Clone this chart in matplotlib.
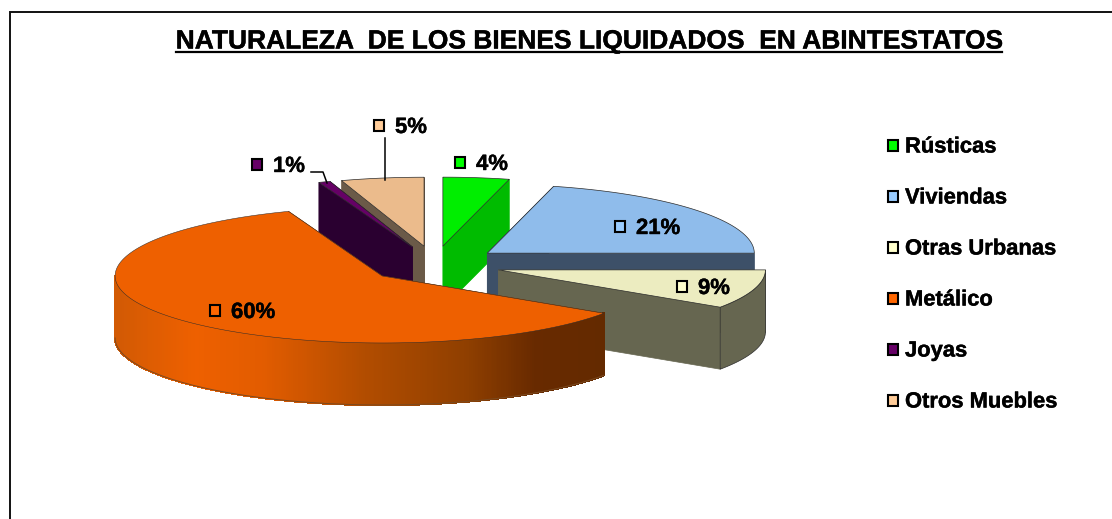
import numpy as np
import matplotlib
matplotlib.use("Agg")
import matplotlib.pyplot as plt
import matplotlib.patheffects as pe
from matplotlib.patches import Polygon, Rectangle
from matplotlib.collections import PolyCollection
from matplotlib.colors import LinearSegmentedColormap, Normalize

plt.rcParams['font.family'] = ['Liberation Sans', 'DejaVu Sans']

# ---- data ----
categories = ["Rústicas", "Viviendas", "Otras Urbanas", "Metálico", "Joyas", "Otros Muebles"]
shares = [4.0, 21.0, 9.4, 59.9, 0.7, 5.0]
title = "NATURALEZA  DE LOS BIENES LIQUIDADOS  EN ABINTESTATOS"

# ---- styles ----
top_colors = ["#00EE00", "#8FBCEB", "#ECECC0", "#EE6000", "#660066", "#EBBB8C"]
wall_colors = ["#00BB00", "#3D5068", "#666650", "#8F3F00", "#2A0030", "#6B5A48"]
key_colors = ["#00FF00", "#99CCFF", "#FFFFCC", "#FF6600", "#660066", "#FFCC99"]
draw_order = [0, 5, 4, 1, 2, 3]

# ---- layout, in pixels of the figure ----
W, H = 1112, 519
CX, CY, RX = 434.5, 264.5, 267.0
RY_FRONT, RY_BACK = 67.0, 69.0
EXPLODE_X, EXPLODE_Y, DEPTH = 66.8, 18.5, 62.0
label_pos = [(460, 162), (620, 226), (682, 286), (215, 310), (257, 164), (379, 125)]
legend_y = [145, 196, 247, 298, 349, 400]

fig = plt.figure(figsize=(W / 100, H / 100), dpi=100, facecolor="white")
ax = fig.add_axes([0, 0, 1, 1])
ax.set_xlim(0, W)
ax.set_ylim(H, 0)
ax.axis("off")

ax.plot([10, 10, W], [H, 12, 12], color="#111111", lw=1.4, solid_joinstyle="miter", zorder=1)

total = sum(shares)
edges = np.concatenate([[0], np.cumsum(shares)]) / total * 2 * np.pi
wall_cmap = LinearSegmentedColormap.from_list("wall", [
    (0.00, "#D25A04"), (0.16, "#EE6000"), (0.30, "#E25C00"), (0.52, "#B04C00"),
    (0.72, "#8F3F00"), (0.86, "#682A00"), (1.00, "#642A00")])
norm = Normalize(115, 603)
EDGE = "#2b2b2b"
heavy = [pe.withStroke(linewidth=0.3, foreground="black")]


def rim(ox, oy, th):
    c = np.cos(th)
    return ox + RX * np.sin(th), oy - np.where(c > 0, RY_BACK, RY_FRONT) * c


z = 2
for i in draw_order:
    a0, a1 = edges[i], edges[i + 1]
    mid = (a0 + a1) / 2
    ox = CX + EXPLODE_X * np.sin(mid)
    oy = CY - EXPLODE_Y * np.cos(mid)
    th = np.linspace(a0, a1, 240)
    xs, ys = rim(ox, oy, th)

    # radial cut walls
    for a in (a0, a1):
        px, py = rim(ox, oy, a)
        ax.add_patch(Polygon([(ox, oy), (px, py), (px, py + DEPTH), (ox, oy + DEPTH)],
                             closed=True, fc=wall_colors[i], ec=wall_colors[i], lw=0.5, zorder=z))
        z += 1

    # outer wall: only the part turned towards the viewer
    lo, hi = max(a0, np.pi / 2), min(a1, 3 * np.pi / 2)
    if hi > lo:
        tw = np.linspace(lo, hi, 361)
        wx, wy = rim(ox, oy, tw)
        if i == 3:
            quads = [[(wx[k], wy[k]), (wx[k + 1], wy[k + 1]),
                      (wx[k + 1], wy[k + 1] + DEPTH), (wx[k], wy[k] + DEPTH)]
                     for k in range(len(wx) - 1)]
            cols = wall_cmap(norm((wx[:-1] + wx[1:]) / 2))
            ax.add_collection(PolyCollection(quads, facecolors=cols, edgecolors=cols,
                                             linewidths=1.0, antialiaseds=False, zorder=z))
            z += 1
            ax.plot(wx, wy + DEPTH, color="#7a4a20", lw=0.7, zorder=z)
        else:
            pts = list(zip(wx, wy)) + list(zip(wx[::-1], wy[::-1] + DEPTH))
            ax.add_patch(Polygon(pts, closed=True, fc=wall_colors[i], ec=EDGE, lw=0.5, zorder=z))
        z += 1

    # top face
    pts = [(ox, oy)] + list(zip(xs, ys))
    ax.add_patch(Polygon(pts, closed=True, fc=top_colors[i], ec=EDGE,
                         lw=0.35 if i == 3 else 0.5, zorder=z))
    z += 1

z += 10
# leader lines
ax.plot([385, 385], [138, 180], color="black", lw=1.1, zorder=z)
ax.plot([311, 323, 327], [172, 172, 183], color="black", lw=1.1, zorder=z)


def swatch(x, y, color, w=10, h=11):
    ax.add_patch(Rectangle((x - w / 2, y - h / 2), w, h, fc=color, ec="black",
                           lw=1.5, zorder=z + 1))


# data labels
for i, (x, y) in enumerate(label_pos):
    swatch(x, y, key_colors[i])
    ax.text(x + 16, y + 2.5, f"{round(shares[i])}%", fontsize=15.9, fontweight="bold",
            ha="left", va="center", color="black", zorder=z + 2, path_effects=heavy)

# legend
for i, name in enumerate(categories):
    swatch(893, legend_y[i], key_colors[i], w=10, h=11)
    ax.text(905, legend_y[i] + 2, name, fontsize=15.8, fontweight="bold",
            ha="left", va="center", color="black", zorder=z + 2, path_effects=heavy)

# title with underline
t = ax.text(589, 41.5, title, fontsize=19.0, fontweight="bold", ha="center", va="center",
            color="black", zorder=z + 2, path_effects=heavy)
fig.canvas.draw()
bb = t.get_window_extent()
ax.plot([bb.x0, bb.x1], [52, 52], color="black", lw=1.6, zorder=z + 2)

fig.savefig("out.png", dpi=100, facecolor="white")
